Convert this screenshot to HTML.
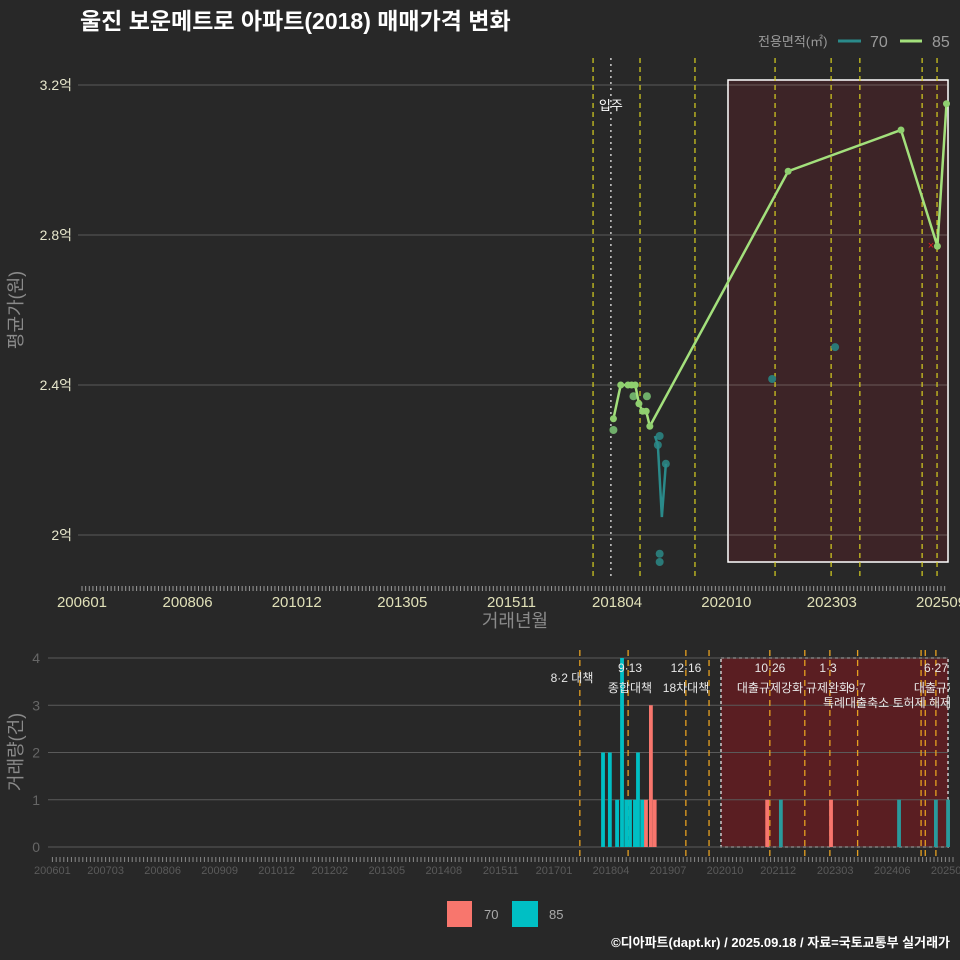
<!DOCTYPE html>
<html><head><meta charset="utf-8">
<style>
body{margin:0;background:#282828;}
svg{display:block;font-family:"Liberation Sans","Noto Sans CJK KR",sans-serif;}
</style></head>
<body>
<svg id="c" width="960" height="960" viewBox="0 0 960 960">
<defs><clipPath id="cp"><rect x="48" y="640" width="902" height="220"/></clipPath></defs>
<rect x="0" y="0" width="960" height="960" fill="#282828"/>
<text x="80" y="29" fill="#ffffff" font-size="23" font-weight="bold">울진 보운메트로 아파트(2018) 매매가격 변화</text>
<g>
<text x="758" y="46" fill="#9a9a9a" font-size="13">전용면적(㎡)</text>
<line x1="838" y1="41" x2="861" y2="41" stroke="#2a8a8a" stroke-width="3"/>
<text x="870" y="47" fill="#9a9a9a" font-size="16">70</text>
<line x1="900" y1="41" x2="922" y2="41" stroke="#a3e07c" stroke-width="3"/>
<text x="932" y="47" fill="#9a9a9a" font-size="16">85</text>
</g>
<text transform="translate(22,310) rotate(-90)" text-anchor="middle" fill="#8a8a8a" font-size="18">평균가(원)</text>
<text x="515" y="627" text-anchor="middle" fill="#8a8a8a" font-size="18">거래년월</text>
<text transform="translate(22,752) rotate(-90)" text-anchor="middle" fill="#8a8a8a" font-size="18">거래량(건)</text>
<g>
<rect x="447" y="901" width="25" height="26" fill="#F8766D"/>
<text x="484" y="919" fill="#aaaaaa" font-size="13">70</text>
<rect x="512" y="901" width="26" height="26" fill="#00BFC4"/>
<text x="549" y="919" fill="#aaaaaa" font-size="13">85</text>
</g>
<text x="950" y="947" text-anchor="end" fill="#ffffff" font-size="13" font-weight="bold">©디아파트(dapt.kr) / 2025.09.18 / 자료=국토교통부 실거래가</text>
<g id="topPanel"></g>
<g id="botPanel"></g>
</svg>
<script>
// ---- data ----
const xTickLabels = ["200601","200806","201012","201305","201511","201804","202010","202303","202509"];
const priceTicks = [2.0, 2.4, 2.8, 3.2];
const priceTickLabels = ["2억","2.4억","2.8억","3.2억"];
const line85Months = [146,148,150,151,152,153,154,155,156,194,225,235,237.5];
const line85Values = [2.31,2.40,2.40,2.40,2.40,2.35,2.33,2.33,2.29,2.97,3.08,2.77,3.15];
const line70Months = [157.4,158.2,159.3,160.4];
const line70Values = [2.264,2.24,2.048,2.19];
const dots85Months = [146,151.5,155.2];
const dots85Values = [2.28,2.37,2.37];
const dots70Months = [158.7,158.2,160.4,158.7,158.7,189.6,206.9];
const dots70Values = [2.264,2.24,2.19,1.95,1.928,2.416,2.501];
const topEventMonths = [140.4,153.3,168.4,190.4,205.8,213.7,230.8,234.9];
const moveInMonth = 145.3;
const volTicks = [0,1,2,3,4];
const bars85Months = [144.9,146.7,148.6,149.9,151,152,153.3,154.1,155.2];
const bars85Counts = [2,2,1,4,1,1,1,2,1];
const bars70Months = [156.2,157.5,158.5,188.1,204.9];
const bars70Counts = [1,3,1,1,1];
const bars85bMonths = [191.7,222.8,232.5,235.7];
const bars85bCounts = [1,1,1,1];
const botEventMonths = [138.8,151.5,166.7,172.8,188.8,198,204.6,211.9,228.6,229.7,232.5];
const botAnnotations = [["8·2 대책","",572],["9·13","종합대책",630],["12·16","18차대책",686],["10·26","대출규제강화",770],["1·3","규제완화",828],["","9·7",857],["6·27","대출규제",936]];
const botTickLabels = ["200601","200703","200806","200909","201012","201202","201305","201408","201511","201701","201804","201907","202010","202112","202303","202406","202509"];

const NS="http://www.w3.org/2000/svg";
function mk(p,t,a){const e=document.createElementNS(NS,t);for(const k in a)e.setAttribute(k,a[k]);p.appendChild(e);return e;}
function lblToM(s){return (parseInt(s.slice(0,4))-2006)*12+parseInt(s.slice(4))-1;}
const tx=m=>82+m*3.64, ty=v=>85+(3.2-v)*375;
const bx=m=>52.4+m*3.8, by=c=>847-c*47.25;
const topG=document.getElementById('topPanel'), botG=document.getElementById('botPanel');

// top panel
priceTicks.forEach((v,i)=>{
 const g=mk(topG,'line',{x1:78,x2:948,y1:ty(v),y2:ty(v),stroke:'#5a5a5a','stroke-width':1});
 
 
 const t=mk(topG,'text',{x:72,y:ty(v)+5,'text-anchor':'end',fill:'#e6e6cc','font-size':14});
 t.textContent=priceTickLabels[i];
 
 
});
let r=mk(topG,'rect',{x:728,y:80,width:220,height:482,fill:'#3d2427',stroke:'#ffffff','stroke-width':1.5});


priceTicks.forEach(v=>{
 const g=mk(topG,'line',{x1:729,x2:947,y1:ty(v),y2:ty(v),stroke:'#6a5a5a','stroke-width':1});
 
 
});
topEventMonths.forEach(m=>{
 const l=mk(topG,'line',{x1:tx(m),x2:tx(m),y1:58,y2:580,stroke:'#d8d020','stroke-width':1.2,'stroke-dasharray':'5,4'});
 
 
});
let mv=mk(topG,'line',{x1:tx(moveInMonth),x2:tx(moveInMonth),y1:58,y2:580,stroke:'#cccccc','stroke-width':1.5,'stroke-dasharray':'2,4'});


let mt=mk(topG,'text',{x:tx(moveInMonth),y:110,'text-anchor':'middle',fill:'#ffffff','font-size':13});
mt.textContent='입주';


for(let m=0;m<=237;m++){mk(topG,'line',{x1:tx(m),x2:tx(m),y1:586,y2:591,stroke:'#999','stroke-width':1});}
xTickLabels.forEach(s=>{
 const t=mk(topG,'text',{x:tx(lblToM(s)),y:607,'text-anchor':'middle',fill:'#e0e0b8','font-size':15});
 t.textContent=s;
 
 
});
dots85Months.forEach((m,i)=>{
 const c=mk(topG,'circle',{cx:tx(m),cy:ty(dots85Values[i]),r:4,fill:'#6fae6a'});
 
 
});
dots70Months.forEach((m,i)=>{
 const c=mk(topG,'circle',{cx:tx(m),cy:ty(dots70Values[i]),r:4,fill:'#2a7a78'});
 
 
});
let p70=mk(topG,'polyline',{points:line70Months.map((m,i)=>tx(m)+','+ty(line70Values[i])).join(' '),fill:'none',stroke:'#2a8a8a','stroke-width':2.5});


let p85=mk(topG,'polyline',{points:line85Months.map((m,i)=>tx(m)+','+ty(line85Values[i])).join(' '),fill:'none',stroke:'#a3e07c','stroke-width':2.5});


line85Months.forEach((m,i)=>{
 const c=mk(topG,'circle',{cx:tx(m),cy:ty(line85Values[i]),r:3.5,fill:'#8fcf6f'});
 
 
});
let rx=mk(topG,'text',{x:931,y:249,fill:'#e02020','font-size':11,'text-anchor':'middle'});
rx.textContent='×';



// bottom panel
let br=mk(botG,'rect',{x:721,y:658,width:227,height:189,fill:'#5a1e22',stroke:'#cccccc','stroke-width':1.5,'stroke-dasharray':'3,3'});


volTicks.forEach(v=>{
 const g=mk(botG,'line',{x1:48,x2:948,y1:by(v),y2:by(v),stroke:'#5a5a5a','stroke-width':1});
 
 
 const t=mk(botG,'text',{x:40,y:by(v)+5,'text-anchor':'end',fill:'#666','font-size':14});
 t.textContent=v;
 
 
});
botEventMonths.forEach(m=>{
 const l=mk(botG,'line',{x1:bx(m),x2:bx(m),y1:650,y2:860,stroke:'#e6a020','stroke-width':1.3,'stroke-dasharray':'6,4'});
 
 
});
function bars(ms,cs,col){ms.forEach((m,i)=>{
 const b=mk(botG,'rect',{x:bx(m)-1.9,y:by(cs[i]),width:3.8,height:by(0)-by(cs[i]),fill:col});
 
 
});}
bars(bars85Months,bars85Counts,'#00BFC4');
bars(bars70Months,bars70Counts,'#F8766D');
bars(bars85bMonths,bars85bCounts,'#2a9a9c');
const ag=mk(botG,'g',{'clip-path':'url(#cp)'});
botAnnotations.forEach(a=>{
 const t1=mk(ag,'text',{x:a[2],y:a[0]==='8·2 대책'?682:672,'text-anchor':'middle',fill:'#e8e8e8','font-size':12});
 t1.textContent=a[0];
 
 
 const t2=mk(ag,'text',{x:a[2],y:692,'text-anchor':'middle',fill:'#e8e8e8','font-size':12});
 t2.textContent=a[1];
 
 
});
let t3=mk(ag,'text',{x:887,y:707,'text-anchor':'middle',fill:'#e8e8e8','font-size':12});
t3.textContent='특례대출축소 토허제 해제';


for(let m=0;m<=237;m++){mk(botG,'line',{x1:bx(m),x2:bx(m),y1:857,y2:862,stroke:'#888','stroke-width':1});}
botTickLabels.forEach(s=>{
 const t=mk(botG,'text',{x:bx(lblToM(s)),y:874,'text-anchor':'middle',fill:'#5a5a5a','font-size':11});
 t.textContent=s;
 
 
});
</script>
</body></html>
